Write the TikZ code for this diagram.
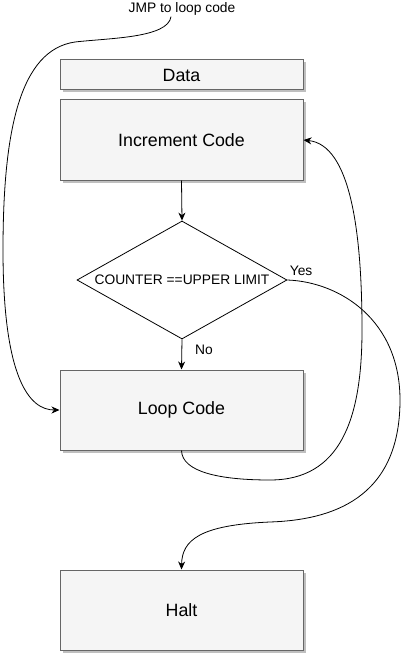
\documentclass[tikz,border=0pt]{standalone}
\usepackage{fontspec}
\setmainfont{Liberation Sans}
\usetikzlibrary{shapes.geometric,arrows.meta,shadows}
\definecolor{boxfill}{HTML}{F5F5F5}
\definecolor{boxline}{HTML}{666666}
\begin{document}
\begin{tikzpicture}[x=1pt,y=-1pt,
  box/.style={draw=boxline,fill=boxfill,line width=1pt,minimum width=243pt,inner sep=0pt,
    font=\fontsize{17.8}{20}\selectfont,
    drop shadow={shadow xshift=2.5pt,shadow yshift=-2.5pt,fill=black,opacity=0.25}},
  dia/.style={draw=black,fill=white,shape=diamond,minimum width=210pt,minimum height=118pt,inner sep=0pt,line width=0.8pt},
  small/.style={font=\fontsize{13.8}{16}\selectfont,inner sep=1pt},
  conn/.style={draw=black,line width=0.8pt,-{Stealth[length=8pt,width=7pt,inset=2.5pt]}}
]
\useasboundingbox (0,0) rectangle (401,655);
\node[small] (jmp) at (182,9) {JMP to loop code};
\node[box,minimum height=30pt] (data) at (181.5,75) {Data};
\node[box,minimum height=80pt] (inc) at (181.5,140) {Increment Code};
\node[dia,label={[small]center:COUNTER ==UPPER LIMIT}] (cond) at (182,280) {};
\node[box,minimum height=80pt] (loop) at (181.5,410) {Loop Code};
\node[box,minimum height=80pt] (halt) at (181.5,610) {Halt};

\draw[conn] (inc.south) -- (cond.north);
\draw[conn] (cond.south) -- node[small,anchor=west,pos=0.35,xshift=12pt] {No} (loop.north);
\draw[conn] ([xshift=-11pt]jmp.south) .. controls (168,38) and (110,38) .. (75,42)
  .. controls (20,50) and (3,130) .. (3,250)
  .. controls (3,380) and (30,410) .. (loop.west);
\draw[conn] (loop.south) .. controls (182,472) and (220,480) .. (270,480)
  .. controls (340,480) and (362,420) .. (362,330)
  .. controls (362,230) and (350,145) .. (inc.east);
\draw[conn] (cond.east) node[small,anchor=south west,xshift=1pt,yshift=3pt] {Yes}
  .. controls (340,282) and (400,320) .. (400,400)
  .. controls (400,500) and (330,520) .. (270,522)
  .. controls (200,525) and (182,540) .. (halt.north);
\end{tikzpicture}
\end{document}
